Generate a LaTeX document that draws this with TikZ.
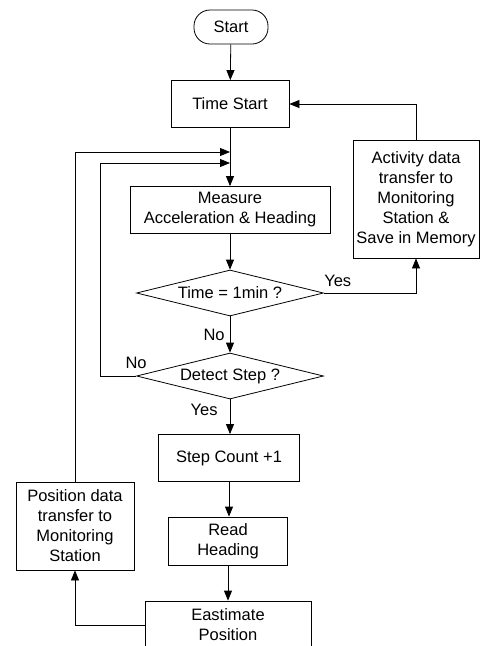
\documentclass[tikz,border=0pt]{standalone}
\usepackage{fontspec}
\setmainfont{Liberation Sans}
\usetikzlibrary{shapes,arrows.meta,positioning,calc}

\begin{document}
\begin{tikzpicture}[x=1pt, y=-1pt, >={Triangle[length=10pt,width=8pt]},
  line width=0.8pt, font=\fontsize{16.5}{20}\selectfont,
  block/.style={rectangle, draw, inner sep=2pt, align=center},
  decision/.style={diamond, draw, aspect=4, inner sep=0pt, minimum width=187pt, minimum height=46pt},
  terminal/.style={rectangle, rounded corners=16pt, draw, minimum width=74pt, minimum height=34pt},
  lbl/.style={inner sep=0pt}]
  \useasboundingbox (0,0) rectangle (481,646);

  \node[terminal] (start) at (231,27) {Start};
  \node[block, minimum width=118pt, minimum height=47pt] (timestart) at (230,104) {Time Start};
  \node[block, minimum width=200pt, minimum height=47pt] (measure) at (230,210) {Measure\\Acceleration \& Heading};
  \node[decision] (timemin) at (230,293) {Time = 1min ?};
  \node[decision] (detect) at (230,376) {Detect Step ?};
  \node[block, minimum width=141pt, minimum height=47pt] (stepcount) at (229,458) {Step Count +1};
  \node[block, minimum width=119pt, minimum height=48pt] (readhead) at (228,541) {Read\\Heading};
  \node[block, minimum width=166pt, minimum height=48pt] (estimate) at (228,625) {Eastimate\\Position};
  \node[block, minimum width=118pt, minimum height=88pt] (posdata) at (75,526) {Position data\\transfer to\\Monitoring\\Station};
  \node[block, minimum width=126pt, minimum height=118pt] (activity) at (416,199) {Activity data\\transfer to\\Monitoring\\Station \&\\Save in Memory};

  \coordinate (join1) at (230,152);
  \coordinate (join2) at (230,163);
  \coordinate (nobend) at (100,376);

  \draw[->] (start) -- (timestart);
  \draw[->] (timestart) -- (measure);
  \draw[->] (measure) -- (timemin);
  \draw[->] (timemin) -- node[left=5pt, lbl] {No} (detect);
  \draw[->] (timemin.east) -| node[pos=0, above right=6pt and 0pt, lbl] {Yes} (activity.south);
  \draw[->] (activity.north) |- (timestart.east);
  \draw[->] (detect.west) -- node[pos=0, above=7pt, lbl] {No} (nobend) |- (join2);
  \draw[->] (detect.south) -- node[pos=0.3, left=12pt, lbl] {Yes} (detect.south |- stepcount.north);
  \draw[->] (stepcount.south) -- (stepcount.south |- readhead.north);
  \draw[->] (readhead) -- (estimate);
  \draw[->] (estimate.west) -| (posdata.south);
  \draw[->] (posdata.north) |- (join1);
\end{tikzpicture}
\end{document}
